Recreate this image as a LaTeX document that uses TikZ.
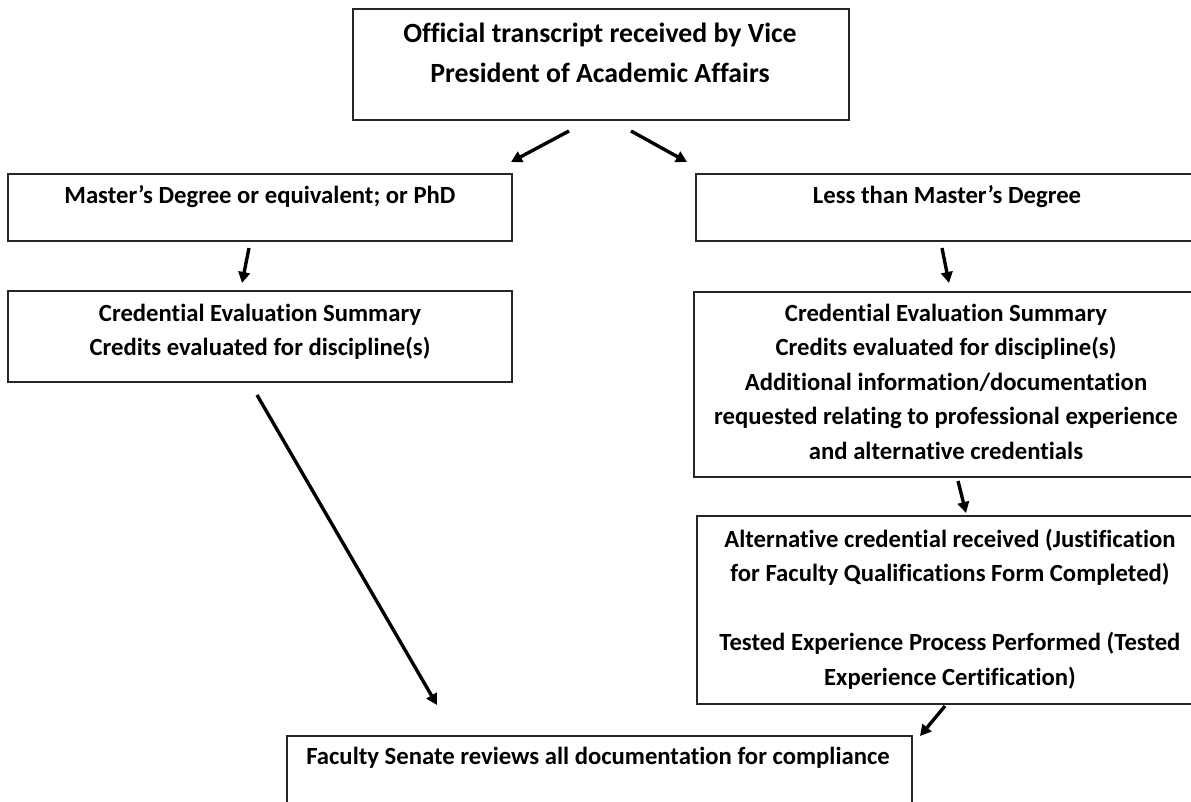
\documentclass[tikz,border=0pt]{standalone}
\usepackage{fontspec}
\setmainfont{Carlito}[Ligatures={NoCommon}]
\usetikzlibrary{arrows.meta}
\tikzset{
  box/.style={draw=black!85, line width=1.4pt, rectangle, inner sep=0pt},
  txt/.style={inner sep=0pt, align=center, anchor=north, font=\bfseries\fontsize{24.7}{34.4}\selectfont},
  toptxt/.style={txt, font=\bfseries\fontsize{27.8}{39.5}\selectfont},
  arr/.style={line width=3.4pt, -{Triangle[length=11pt,width=11.5pt]}},
}
\begin{document}
\begin{tikzpicture}[x=1pt,y=-1pt]
\useasboundingbox (0,0) rectangle (1191,801);
\clip (0,0) rectangle (1191,801);
% boxes
\node[box, minimum width=496, minimum height=111] (top) at (601,64.5) {};
\node[box, minimum width=504, minimum height=67] (l1) at (260,207.5) {};
\node[box, minimum width=502, minimum height=67] (r1) at (947,207.5) {};
\node[box, minimum width=504, minimum height=91] (l2) at (260,336.5) {};
\node[box, minimum width=504, minimum height=185] (r2) at (946,384.5) {};
\node[box, minimum width=501, minimum height=188] (r3) at (947.5,610) {};
\node[box, minimum width=625, minimum height=104] (bot) at (599.5,788) {};
% texts
\node[toptxt] (toptext) at (600,23) {Official transcript received by Vice\\President of Academic Affairs};
\node[txt] (l1text) at (260,185) {Master’s Degree or equivalent; or PhD};
\node[txt] (r1text) at (947,185) {Less than Master’s Degree};
\node[txt] (l2text) at (260,304) {Credential Evaluation Summary\\Credits evaluated for discipline(s)};
\node[txt] (r2text) at (946,304) {Credential Evaluation Summary\\Credits evaluated for discipline(s)\\Additional information/documentation\\requested relating to professional experience\\and alternative credentials};
\node[txt] (r3text) at (950,529) {Alternative credential received (Justification\\for Faculty Qualifications Form Completed)\\[34.4pt]Tested Experience Process Performed (Tested\\Experience Certification)};
\node[txt] (bottext) at (598,747) {Faculty Senate reviews all documentation for compliance};
% arrow ends
\coordinate (a1s) at (569,131); \coordinate (a1e) at (511,162);
\coordinate (a2s) at (631,131); \coordinate (a2e) at (687,162);
\coordinate (a3s) at (249,248); \coordinate (a3e) at (242,283);
\coordinate (a4s) at (942,248); \coordinate (a4e) at (949,283);
\coordinate (a5s) at (958,481); \coordinate (a5e) at (966,513);
\coordinate (a6s) at (257,395); \coordinate (a6e) at (437,705);
\coordinate (a7s) at (945,706); \coordinate (a7e) at (920,736);
\draw[arr] (a1s) -- (a1e);
\draw[arr] (a2s) -- (a2e);
\draw[arr] (a3s) -- (a3e);
\draw[arr] (a4s) -- (a4e);
\draw[arr] (a5s) -- (a5e);
\draw[arr] (a6s) -- (a6e);
\draw[arr] (a7s) -- (a7e);
\end{tikzpicture}
\end{document}
